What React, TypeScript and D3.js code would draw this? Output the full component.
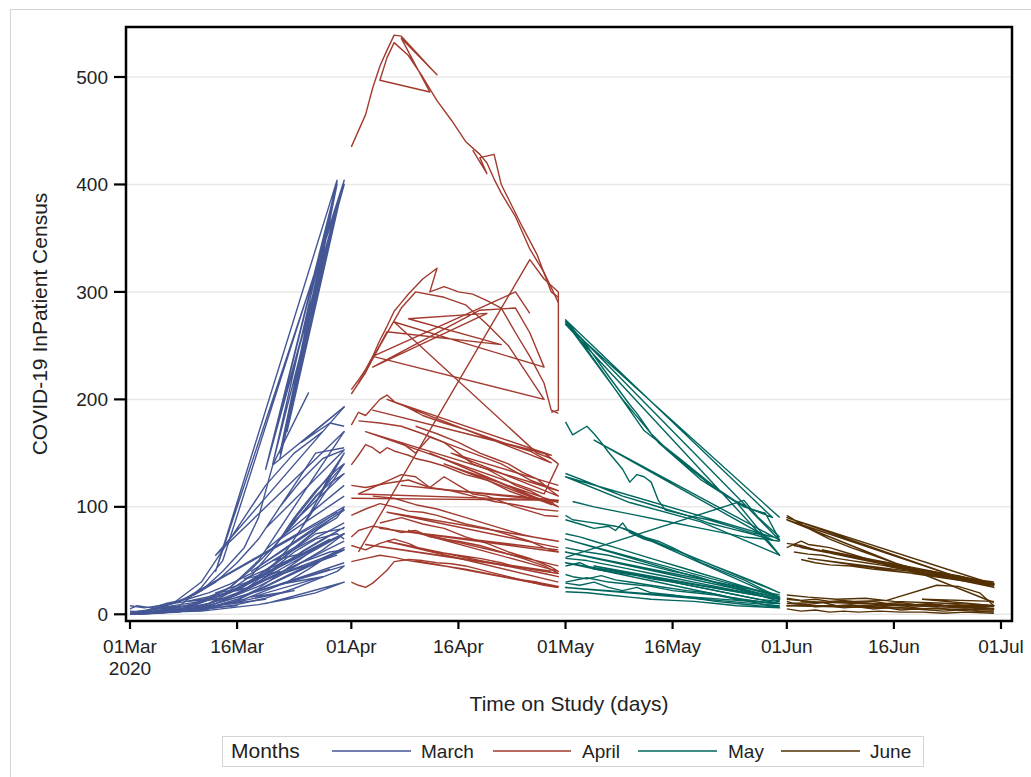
import React from "react";
import * as d3 from "d3";

// ---------- DATA ----------
const MONTH_NAMES = ["March", "April", "May", "June"];
const MONTH_INDEX = [2, 3, 4, 5];
const MONTH_COLORS = ["#445694", "#A23A2E", "#01665E", "#543005"];
const Y_TICKS = [0, 100, 200, 300, 400, 500];
const X_TICK_DATES = [
  [2, 1], [2, 16], [3, 1], [3, 16], [4, 1], [4, 16], [5, 1], [5, 16], [6, 1],
];

// [day of month, census]
const marA = [[1,0],[4,2],[8,8],[11,25],[14,50],[31,404],[21,140],[30,404],[22,150],[31,404],[21,160],[30,400],[23,170],[31,404],[22,145],[30,402],[20,135],[31,400],[13,40],[30,404],[24,215],[31,404]];
const marB = [[2,1],[4,5],[8,12],[11,22],[14,40],[17,62],[19,90],[21,139],[26,206],[21,139],[31,193],[25,160],[29,178],[31,175]];
const marC = [[1,1],[3,3],[6,8],[10,18],[13,30],[16,48],[19,70],[22,100],[25,125],[28,145],[31,153],[20,80],[27,150],[31,155]];
const marD = [[2,0],[5,2],[9,6],[12,14],[15,25],[18,42],[21,62],[24,85],[27,110],[29,122],[31,131],[23,80],[29,130]];
const marE = [[1,3],[4,2],[7,6],[10,9],[14,18],[17,28],[20,40],[23,55],[26,72],[29,88],[31,97],[18,40],[30,95]];
const marF = [[1,0],[3,2],[8,5],[12,10],[16,20],[19,30],[22,45],[25,58],[28,70],[31,81],[16,22],[27,75],[31,80]];
const marG = [[2,1],[6,3],[10,6],[13,12],[16,18],[19,26],[22,36],[25,48],[28,60],[31,75],[12,10],[29,70]];
const marH = [[1,2],[5,3],[9,5],[13,8],[17,14],[20,22],[23,30],[26,42],[29,55],[31,62],[15,10],[31,60]];
const marI = [[1,0],[4,1],[8,3],[12,5],[16,9],[20,15],[24,24],[27,32],[30,40],[31,45],[10,4],[29,42]];
const marJ = [[1,1],[6,2],[11,3],[15,6],[19,9],[23,14],[27,20],[31,30],[20,10],[30,28]];
const marK = [[3,2],[7,10],[11,30],[14,60],[17,90],[20,120],[24,150],[28,170],[31,193],[13,55],[31,170]];
const marL = [[1,5],[2,8],[4,6],[6,10],[9,14],[12,20],[15,28],[18,38],[21,50],[24,62],[27,78],[30,90],[31,100],[8,12],[31,98]];
const marM = [[1,0],[8,2],[3,1],[12,4],[6,2],[16,8],[10,5],[20,14],[14,9],[24,22],[18,16],[28,35],[22,28],[31,48]];
const marN = [[2,3],[10,8],[5,6],[14,15],[9,12],[18,25],[13,20],[22,40],[17,33],[26,58],[21,50],[31,85]];
const marO = [[1,0],[5,1],[9,4],[13,10],[17,22],[20,38],[23,60],[26,90],[29,130],[31,150],[25,80],[31,140]];
const marP = [[1,8],[3,6],[6,9],[9,12],[12,15],[15,20],[18,30],[21,42],[24,58],[27,70],[30,75],[31,70]];
const marQ = [[2,0],[7,2],[12,6],[16,14],[19,24],[22,38],[25,52],[28,66],[31,75],[14,12],[31,68]];
const marR = [[1,1],[4,3],[7,4],[11,8],[15,16],[18,26],[21,36],[25,48],[29,58],[31,60],[19,30],[30,55]];
const marS = [[5,2],[10,10],[15,25],[19,50],[22,80],[25,110],[28,140],[31,170],[20,60],[31,120]];
const marT = [[3,1],[9,6],[14,18],[18,36],[21,60],[24,90],[27,115],[30,135],[31,140],[22,70],[31,110]];

const aprA = [[1,435],[3,465],[4,490],[5,510],[6,525],[7,539],[8,538],[13,502],[8,536],[12,486],[5,497],[6,518],[7,532],[9,520],[11,500],[13,478],[15,460],[17,440],[19,428],[20,420],[21,405],[22,392],[24,370],[26,340],[28,318],[30,290]];
const aprA2 = [[18,432],[20,410],[19,425],[21,428],[22,400],[25,360],[27,335],[29,300],[30,295]];
const aprB = [[1,209],[2,218],[3,228],[4,240],[5,255],[6,268],[7,282],[8,290],[9,298],[10,305],[11,312],[13,322],[12,300],[14,305],[16,300],[18,298],[20,292],[22,285],[24,262],[26,240],[28,215],[29,190],[30,187]];
const aprC = [[1,205],[3,225],[6,263],[22,251],[9,275],[20,280],[4,230],[19,283],[24,285],[26,262],[28,230],[7,272],[27,150],[29,145]];
const aprR = [[2,215],[5,250],[8,285],[10,300],[14,295],[17,288],[20,270],[23,250],[26,220],[28,200],[4,240],[24,300],[26,280]];
const aprX = [[2,58],[26,330],[28,312],[30,300],[30,190],[29,188]];
const aprD = [[1,176],[2,188],[3,185],[5,200],[6,204],[7,198],[9,192],[11,185],[14,178],[17,172],[20,165],[23,158],[26,152],[29,141],[6,200],[29,148],[4,190],[28,150],[30,140]];
const aprE = [[1,139],[2,148],[3,158],[4,155],[5,150],[6,155],[7,152],[8,150],[9,148],[10,145],[12,142],[14,138],[17,130],[20,125],[23,115],[26,108],[29,104],[30,106],[8,120],[30,105]];
const aprF = [[1,108],[30,106],[2,112],[4,118],[6,124],[8,130],[10,128],[12,118],[14,128],[16,120],[18,112],[20,110],[24,100],[28,92],[30,91]];
const aprG = [[1,92],[3,98],[5,103],[7,100],[9,96],[11,95],[13,92],[15,88],[17,84],[20,80],[23,74],[26,68],[28,62],[30,58],[5,80],[30,60]];
const aprH = [[1,72],[2,78],[4,82],[6,80],[8,76],[10,78],[12,72],[14,70],[16,68],[19,64],[22,58],[25,52],[28,45],[30,38],[3,65],[29,40]];
const aprI = [[1,64],[3,60],[5,66],[7,70],[9,66],[11,60],[13,58],[16,55],[19,52],[22,48],[25,42],[28,38],[30,35],[6,68],[30,30]];
const aprJ = [[1,49],[3,52],[5,55],[7,53],[9,50],[11,48],[14,45],[17,42],[20,38],[24,33],[27,30],[30,26],[10,50],[30,25]];
const aprK = [[1,30],[2,27],[3,25],[4,29],[5,35],[6,41],[7,49],[9,51],[11,50],[13,48],[15,47],[17,45],[20,40],[23,35],[26,30],[28,27],[30,25]];
const aprL = [[8,160],[10,150],[12,165],[14,160],[16,150],[18,140],[20,135],[22,128],[24,120],[26,115],[28,108],[30,100],[12,150],[29,102],[14,140],[30,104]];
const aprM = [[10,175],[13,168],[16,160],[19,150],[21,145],[23,140],[25,132],[27,126],[29,115],[30,110],[15,150],[30,120]];
const aprN = [[2,180],[5,178],[8,175],[11,168],[14,160],[18,150],[22,140],[26,125],[30,115],[3,170],[28,112],[30,140]];
const aprO = [[4,110],[7,108],[10,102],[13,98],[16,92],[19,86],[22,80],[25,74],[28,70],[30,68],[6,95],[30,62]];
const aprP = [[5,85],[8,90],[11,84],[14,80],[17,72],[20,66],[23,58],[26,52],[29,44],[30,40],[9,78],[30,45]];
const aprQ = [[1,120],[3,118],[6,122],[9,125],[12,118],[15,115],[18,110],[21,105],[24,102],[27,98],[30,96]];

const mayA = [[1,274],[4,250],[7,222],[10,195],[11,187],[13,168],[15,155],[18,138],[21,122],[24,108],[27,98],[30,90],[1,274],[6,228],[12,171],[17,145],[22,118],[26,100],[29,94],[31,69],[1,272],[9,200],[14,160],[20,125],[25,104],[31,55],[1,270],[31,90]];
const mayB = [[1,179],[2,167],[4,175],[5,168],[6,160],[7,151],[9,135],[10,123],[11,130],[12,128],[13,123],[14,106],[15,97],[18,92],[21,85],[24,80],[27,75],[30,69],[5,162],[31,69]];
const mayC = [[1,131],[3,126],[6,118],[9,110],[12,104],[15,98],[18,92],[21,88],[24,82],[27,76],[30,72],[1,128],[10,104],[20,86],[31,55]];
const mayD = [[1,92],[2,88],[4,86],[6,84],[8,82],[10,78],[12,72],[14,68],[16,62],[18,55],[20,48],[23,40],[26,32],[29,22],[31,16]];
const mayE = [[1,88],[3,84],[5,80],[7,82],[8,78],[9,85],[10,76],[12,70],[14,66],[17,58],[20,50],[23,42],[26,34],[29,26],[31,20],[9,80],[31,15]];
const mayF = [[1,53],[26,106],[28,90],[31,72]];
const mayG = [[1,45],[3,48],[5,42],[7,40],[9,38],[11,36],[13,33],[16,30],[19,26],[22,22],[25,18],[28,14],[31,12]];
const mayH = [[1,37],[2,35],[4,33],[6,36],[8,32],[10,30],[12,28],[15,25],[18,22],[21,20],[24,16],[27,13],[30,10],[31,13]];
const mayI = [[1,29],[3,27],[5,30],[7,25],[9,22],[11,25],[13,20],[16,18],[19,15],[22,12],[25,10],[28,8],[31,7]];
const mayJ = [[1,21],[4,20],[7,18],[10,16],[13,14],[16,13],[19,12],[22,10],[25,8],[28,7],[31,6],[1,48],[31,14]];
const mayK = [[1,62],[4,58],[7,55],[10,50],[13,45],[16,40],[19,36],[22,30],[25,25],[28,20],[31,15],[1,58],[31,18]];
const mayL = [[1,75],[3,72],[5,68],[8,62],[11,56],[14,50],[17,44],[20,38],[23,32],[26,26],[29,20],[31,16],[1,70],[31,12]];
const mayM = [[1,52],[4,50],[7,46],[10,42],[13,38],[16,34],[19,30],[22,26],[25,22],[28,18],[31,14],[5,45],[31,10]];
const mayN = [[1,30],[4,34],[7,30],[10,28],[13,26],[16,22],[19,20],[22,18],[25,14],[28,12],[31,10],[1,25],[31,8]];
const mayO = [[2,105],[5,100],[8,96],[11,92],[14,88],[17,84],[20,80],[23,76],[26,72],[29,70],[31,68]];

const junA = [[1,92],[4,80],[7,70],[10,62],[13,55],[16,48],[19,42],[22,38],[25,34],[28,30],[30,28],[1,90],[27,30],[1,88],[30,11]];
const junB = [[1,62],[3,68],[4,65],[5,64],[7,62],[9,58],[11,54],[13,50],[15,45],[17,42],[19,40],[21,37],[23,35],[25,32],[27,30],[29,27],[30,25],[2,64],[30,28],[3,62],[29,30]];
const junC = [[3,51],[5,48],[7,46],[10,45],[13,42],[16,40],[19,38],[22,36],[25,33],[28,30],[30,27],[4,52],[30,30]];
const junD = [[1,15],[3,13],[5,14],[7,12],[9,13],[11,11],[13,12],[15,10],[17,11],[19,9],[21,10],[23,8],[25,9],[27,7],[29,6],[30,5]];
const junE = [[1,12],[2,10],[4,9],[6,11],[8,8],[10,9],[12,7],[14,8],[16,6],[18,7],[20,5],[22,6],[24,4],[26,5],[28,3],[30,3]];
const junF = [[1,5],[3,3],[5,4],[7,2],[9,3],[11,2],[14,3],[17,2],[20,2],[23,1],[26,2],[30,1]];
const junG = [[1,10],[15,13],[22,27],[25,26],[28,20],[30,8],[20,14],[30,12]];
const junH = [[1,18],[4,16],[8,14],[12,15],[16,12],[20,11],[24,10],[28,9],[30,8],[1,8],[30,4]];
const junI = [[1,66],[3,64],[5,60],[7,58],[9,55],[11,52],[13,50],[15,48],[17,45],[19,42],[21,40],[23,38],[25,36],[27,33],[29,30],[30,28]];
const junJ = [[2,58],[4,56],[6,55],[8,52],[10,50],[12,48],[14,46],[16,44],[18,42],[20,40],[22,38],[24,36],[26,34],[28,31],[30,29],[6,60],[30,26]];
const junK = [[1,8],[3,9],[5,7],[7,8],[9,6],[11,7],[13,5],[15,6],[17,4],[19,5],[21,4],[23,3],[25,4],[27,3],[30,2]];
const junL = [[1,14],[4,12],[7,11],[10,12],[13,10],[16,9],[19,8],[22,9],[25,7],[28,6],[30,5],[3,12],[30,7]];

const SERIES_BY_MONTH = [
  [marA, marB, marC, marD, marE, marF, marG, marH, marI, marJ, marK, marL, marM, marN, marO, marP, marQ, marR, marS, marT],
  [aprA, aprA2, aprB, aprC, aprR, aprX, aprD, aprE, aprF, aprG, aprH, aprI, aprJ, aprK, aprL, aprM, aprN, aprO, aprP, aprQ],
  [mayA, mayB, mayC, mayD, mayE, mayF, mayG, mayH, mayI, mayJ, mayK, mayL, mayM, mayN, mayO],
  [junA, junB, junC, junD, junE, junF, junG, junH, junI, junJ, junK, junL],
];

// ---------- LAYOUT ----------
const W = 1031, H = 777;
const FRAME = { left: 126, right: 1012, top: 27, bottom: 621 };
const FONT = "'Liberation Sans', Arial, sans-serif";
const TEXT = "#222";

export default function App() {
  const x = d3.scaleUtc()
    .domain([new Date(Date.UTC(2020, 2, 1)), new Date(Date.UTC(2020, 6, 1))])
    .range([130, 1001]);
  const y = d3.scaleLinear().domain([0, 500]).range([614.3, 77]);
  const fmt = d3.utcFormat("%d%b");

  const lineFor = (mIdx) =>
    d3.line()
      .x((d) => x(new Date(Date.UTC(2020, mIdx, d[0]))))
      .y((d) => y(d[1]));

  const xTicks = X_TICK_DATES.map(([m, d]) => new Date(Date.UTC(2020, m, d)));

  const legendItems = [
    { x1: 332, x2: 411, tx: 421 },
    { x1: 493, x2: 571, tx: 582 },
    { x1: 638, x2: 717, tx: 728 },
    { x1: 781, x2: 860, tx: 870 },
  ];

  return (
    <svg
      width={W}
      height={H}
      style={{ position: "absolute", left: 0, top: 0, background: "#fff" }}
      fontFamily={FONT}
    >
      <rect x={0} y={0} width={W} height={H} fill="#fff" />
      <rect x={10.5} y={9.5} width={1040} height={800} fill="none" stroke="#d4d4d4" strokeWidth={1} />

      {Y_TICKS.map((t) => (
        <line key={"g" + t} x1={FRAME.left} x2={FRAME.right} y1={y(t)} y2={y(t)} stroke="#e9e9e9" strokeWidth={1.5} />
      ))}

      <g fill="none" strokeWidth={1.4} strokeLinejoin="round">
        {SERIES_BY_MONTH.map((group, gi) =>
          group.map((s, si) => (
            <path key={gi + "-" + si} d={lineFor(MONTH_INDEX[gi])(s)} stroke={MONTH_COLORS[gi]} />
          ))
        )}
      </g>

      <rect
        x={FRAME.left}
        y={FRAME.top}
        width={FRAME.right - FRAME.left}
        height={FRAME.bottom - FRAME.top}
        fill="none"
        stroke="#000"
        strokeWidth={2.5}
      />

      {Y_TICKS.map((t) => (
        <g key={"y" + t}>
          <line x1={114} x2={FRAME.left} y1={y(t)} y2={y(t)} stroke="#000" strokeWidth={2.2} />
          <text x={108} y={y(t)} dy="0.35em" textAnchor="end" fontSize={19} fill={TEXT}>
            {t}
          </text>
        </g>
      ))}
      <text
        transform={`translate(47, ${(FRAME.top + FRAME.bottom) / 2}) rotate(-90)`}
        textAnchor="middle"
        fontSize={21}
        fill={TEXT}
      >
        COVID-19 InPatient Census
      </text>

      {xTicks.map((t, i) => (
        <g key={"x" + i}>
          <line x1={x(t)} x2={x(t)} y1={FRAME.bottom} y2={629} stroke="#000" strokeWidth={2.2} />
          <text x={x(t)} y={653} textAnchor="middle" fontSize={19} fill={TEXT}>
            {fmt(t)}
          </text>
        </g>
      ))}
      <text x={x(xTicks[0])} y={675} textAnchor="middle" fontSize={19} fill={TEXT}>
        2020
      </text>
      <text x={(FRAME.left + FRAME.right) / 2} y={711} textAnchor="middle" fontSize={21} fill={TEXT}>
        Time on Study (days)
      </text>

      <rect x={222.5} y={736.5} width={701} height={30} fill="none" stroke="#d4d4d4" strokeWidth={1} />
      <text x={231} y={758} fontSize={21} fill={TEXT}>
        Months
      </text>
      {legendItems.map((it, i) => (
        <g key={"l" + i}>
          <line x1={it.x1} x2={it.x2} y1={751} y2={751} stroke={MONTH_COLORS[i]} strokeWidth={1.5} />
          <text x={it.tx} y={758} fontSize={19} fill={TEXT}>
            {MONTH_NAMES[i]}
          </text>
        </g>
      ))}
    </svg>
  );
}
